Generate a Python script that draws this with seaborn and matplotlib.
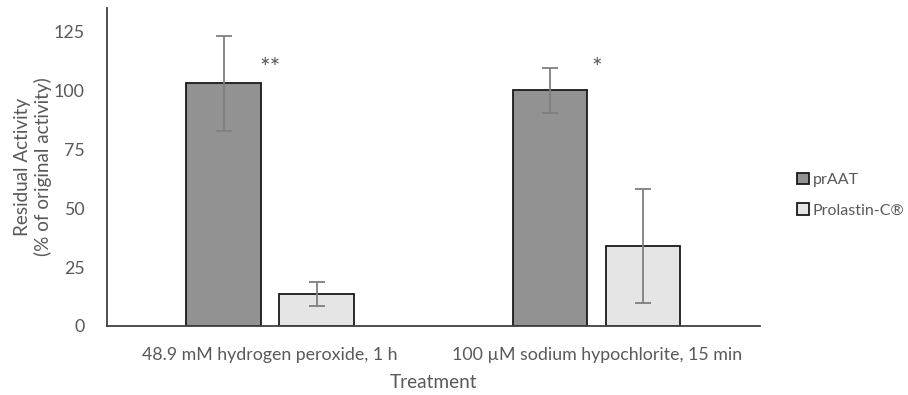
# residual activity after oxidation - prAAT vs Prolastin-C

import pandas as pd
import seaborn as sns
import matplotlib.pyplot as plt

treatments = ["48.9 mM hydrogen peroxide, 1 h", "100 \u00b5M sodium hypochlorite, 15 min"]
products = ["prAAT", "Prolastin-C\u00ae"]
praat_mean = [103.0, 100.0]
praat_sd = [20.3, 9.7]
prolastin_mean = [13.6, 34.0]
prolastin_sd = [5.0, 24.2]
stars = ["**", "*"]
star_y = [109.5, 109.5]

df = pd.DataFrame({
    "Treatment": treatments * 2,
    "Product": [products[0]] * 2 + [products[1]] * 2,
    "Activity": praat_mean + prolastin_mean,
    "SD": praat_sd + prolastin_sd,
})

sns.set_style("white")
plt.rcParams["font.family"] = ["Lato", "DejaVu Sans"]
grey = "#595959"

fig = plt.figure(figsize=(9.08, 3.95), dpi=100)
ax = fig.add_axes([0.1178, 0.1747, 0.719, 0.805])

sns.barplot(data=df, x="Treatment", y="Activity", hue="Product",
            palette=["#929292", "#e5e5e5"], width=0.57, gap=0.2,
            edgecolor="#1a1a1a", linewidth=1.3, errorbar=None, ax=ax)

# error bars at bar centres
for cont, sds in zip(ax.containers, [praat_sd, prolastin_sd]):
    xs = [p.get_x() + p.get_width() / 2 for p in cont.patches]
    ys = [p.get_height() for p in cont.patches]
    ax.errorbar(xs, ys, yerr=sds, fmt="none", ecolor="#7f7f7f",
                elinewidth=1.3, capsize=6, capthick=1.3, zorder=5)

# significance marks
for i, s in enumerate(stars):
    ax.text(i, star_y[i], s, ha="center", va="center",
            fontsize=18, color=grey)

ax.set_ylim(0, 135)
ax.set_xlim(-0.5, 1.5)
ax.set_yticks([0, 25, 50, 75, 100, 125])
ax.tick_params(axis="both", length=0, labelsize=12.8, labelcolor=grey)
ax.tick_params(axis="x", pad=15)
ax.tick_params(axis="y", pad=16)
ax.set_xlabel("Treatment", fontsize=13.7, color=grey, labelpad=8)
ax.set_ylabel("Residual Activity\n(% of original activity)", fontsize=13.6,
              color=grey, labelpad=1)

for side in ["top", "right"]:
    ax.spines[side].set_visible(False)
ax.spines["left"].set_color("#404040")
ax.spines["bottom"].set_color("#404040")
ax.spines["left"].set_linewidth(1.3)
ax.spines["bottom"].set_linewidth(1.3)

leg = ax.legend(loc="center left", bbox_to_anchor=(1.047, 0.412), frameon=False,
                fontsize=11.5, handlelength=0.75, handleheight=0.75,
                handletextpad=0.25, labelspacing=1.0, borderaxespad=0)
for t in leg.get_texts():
    t.set_color(grey)

plt.savefig("out.png", dpi=100)
